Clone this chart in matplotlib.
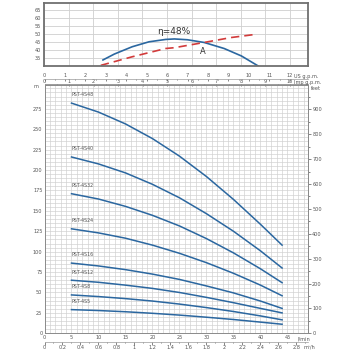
import matplotlib
matplotlib.use("Agg")
import matplotlib.pyplot as plt
from matplotlib.ticker import FixedLocator, MultipleLocator, NullFormatter

# ---- data ----
flow_lmin = [5, 10, 15, 20, 25, 30, 35, 40, 44]
models = ["PST-4S48", "PST-4S40", "PST-4S32", "PST-4S24",
          "PST-4S16", "PST-4S12", "PST-4S8", "PST-4S5"]
head_4s48 = [282, 271, 256.5, 238.5, 217, 192, 164, 133.5, 108]
head_4s40 = [216, 207.5, 196.5, 182.5, 166, 146.5, 125, 101, 80]
head_4s32 = [171, 164.5, 155.5, 144.5, 131.5, 116, 98.5, 79, 62]
head_4s24 = [128, 123, 116.5, 108, 98, 86.5, 73.5, 59, 46]
head_4s16 = [86, 82.5, 78, 72.5, 66, 58, 49.5, 39.5, 30.5]
head_4s12 = [65, 62.5, 59, 55, 50, 44, 37.5, 30.5, 25]
head_4s8 = [47, 45, 42.5, 39.5, 35.8, 31.5, 26.7, 21.3, 16.5]
head_4s5 = [29, 27.9, 26.4, 24.5, 22.3, 19.7, 16.9, 13.7, 11.1]
heads = [head_4s48, head_4s40, head_4s32, head_4s24,
         head_4s16, head_4s12, head_4s8, head_4s5]

eff_flow = [10.9, 13.0, 16.3, 19.4, 22.5, 24.1, 26.5, 29.6, 33.3, 36.5, 39.6]
eff_pct = [33.8, 37.5, 42.1, 45.2, 46.7, 47.0, 46.5, 44.8, 41.0, 36.3, 30.0]
pow_flow = [10.5, 16.3, 22.5, 24.1, 29.6, 34.6, 39.4]
pow_val = [30.4, 35.8, 41.0, 41.5, 44.8, 47.9, 50.0]

m_ticks = [0, 25, 50, 75, 100, 125, 150, 175, 200, 225, 250, 275]
ft_ticks = [0, 100, 200, 300, 400, 500, 600, 700, 800, 900]
lmin_ticks = [0, 5, 10, 15, 20, 25, 30, 35, 40, 45]
m3h_ticks = [0, 0.2, 0.4, 0.6, 0.8, 1, 1.2, 1.4, 1.6, 1.8, 2, 2.2, 2.4, 2.6, 2.8]
us_ticks = list(range(0, 13))
imp_ticks = list(range(0, 11))
eff_ticks = [35, 40, 45, 50, 55, 60, 65]

BLUE = "#2b67a0"
RED = "#d23b3b"
GRID = "#cfcfcf"
TXT = "#555555"
FS = 3.6

W = H = 350.0
fig = plt.figure(figsize=(3.5, 3.5), dpi=100)
fig.patch.set_facecolor("white")


def rect(l, t, r, b):
    return [l / W, 1 - b / H, (r - l) / W, (b - t) / H]


XMAX = 48.8

# ---- efficiency panel ----
axe = fig.add_axes(rect(44, 3, 308, 66))
axe.set_xlim(0, XMAX)
axe.set_ylim(30, 69.6)
axe.xaxis.set_major_locator(FixedLocator([k * 4.546 for k in range(11)]))
axe.xaxis.set_major_formatter(NullFormatter())
axe.yaxis.set_major_locator(FixedLocator(eff_ticks))
axe.tick_params(axis="both", length=0, labelsize=FS, colors=TXT, pad=2)
axe.grid(True, color=GRID, linewidth=0.6)
for s in axe.spines.values():
    s.set_color("#707070")
    s.set_linewidth(1.3)
axe.plot(eff_flow, eff_pct, color=BLUE, linewidth=1.2)
axe.plot(pow_flow, pow_val, color=RED, linewidth=1.2, dashes=(5, 3))
axe.text(23.9, 51.9, "η=48%", fontsize=6.5, color="#333333",
         ha="center", va="center")
axe.text(29.4, 38.8, "A", fontsize=6, color="#333333",
         ha="center", va="center")

# ---- head curves ----
ax = fig.add_axes(rect(44.5, 84.5, 308, 333.3))
ax.set_xlim(0, XMAX)
ax.set_ylim(0, 304.8)
ax.xaxis.set_major_locator(FixedLocator(lmin_ticks))
ax.xaxis.set_minor_locator(MultipleLocator(1))
ax.yaxis.set_major_locator(FixedLocator(m_ticks))
ax.yaxis.set_minor_locator(MultipleLocator(5))
ax.grid(True, which="both", color=GRID, linewidth=0.45)
ax.set_axisbelow(True)
ax.tick_params(axis="both", which="both", length=0, labelsize=FS,
               colors=TXT, pad=1.5)
for s in ax.spines.values():
    s.set_color("#8a8a8a")
    s.set_linewidth(0.7)

for name, h in zip(models, heads):
    ax.plot(flow_lmin, h, color=BLUE, linewidth=1.1)
    ax.text(flow_lmin[0], h[0] + 7, name, fontsize=3.4, color=TXT,
            ha="left", va="bottom")

# secondary scales
imp = ax.secondary_xaxis("top", functions=(lambda q: q / 4.546,
                                            lambda g: g * 4.546))
imp.xaxis.set_major_locator(FixedLocator(imp_ticks))
imp.xaxis.set_minor_locator(FixedLocator([k + 0.5 for k in range(11)]))
imp.tick_params(which="major", direction="in", length=1.6, width=0.5,
                labelsize=FS, colors=TXT, pad=0.6)
imp.tick_params(which="minor", direction="in", length=1, width=0.5,
                colors=TXT)
imp.spines["top"].set_color("#8a8a8a")
imp.spines["top"].set_linewidth(0.6)

us = ax.secondary_xaxis(1.022, functions=(lambda q: q / 3.785,
                                           lambda g: g * 3.785))
us.xaxis.set_major_locator(FixedLocator(us_ticks))
us.xaxis.set_minor_locator(FixedLocator([k + 0.5 for k in range(12)]))
us.tick_params(which="major", direction="in", length=1.6, width=0.5,
               labelsize=FS, colors=TXT, pad=0.8)
us.tick_params(which="minor", direction="in", length=1, width=0.5,
               colors=TXT)
us.spines["top"].set_color("#9a9a9a")
us.spines["top"].set_linewidth(0.5)

m3h = ax.secondary_xaxis(-0.034, functions=(lambda q: q * 0.06,
                                             lambda v: v / 0.06))
m3h.xaxis.set_major_locator(FixedLocator(m3h_ticks))
m3h.xaxis.set_minor_locator(FixedLocator([0.1 + 0.2 * k for k in range(15)]))
m3h.set_xticklabels(["%g" % v for v in m3h_ticks])
m3h.tick_params(which="major", length=1.8, width=0.5, labelsize=FS,
                colors=TXT, pad=0.5)
m3h.tick_params(which="minor", length=1, width=0.5, colors=TXT)
m3h.spines["bottom"].set_color("#9a9a9a")
m3h.spines["bottom"].set_linewidth(0.5)

feet = ax.secondary_yaxis("right", functions=(lambda m: m / 0.3048,
                                               lambda f: f * 0.3048))
feet.yaxis.set_major_locator(FixedLocator(ft_ticks))
feet.yaxis.set_minor_locator(FixedLocator([50 + 100 * k for k in range(10)]))
feet.tick_params(which="major", length=2, width=0.5, labelsize=FS,
                 colors=TXT, pad=1)
feet.tick_params(which="minor", length=1.2, width=0.5, colors=TXT)
feet.spines["right"].set_color("#8a8a8a")
feet.spines["right"].set_linewidth(0.7)


# unit labels
def ftext(x, y, s, **kw):
    fig.text(x / W, 1 - y / H, s, fontsize=FS, color=TXT,
             va="center", **kw)


ftext(294, 76.5, "US g.p.m.", ha="left")
ftext(294, 82.5, "Imp g.p.m.", ha="left")
ftext(311, 89, "feet", ha="left")
ftext(38, 87, "m", ha="right")
ftext(298, 339, "l/min", ha="left")
ftext(304, 347, "m³/h", ha="left")

fig.savefig("out.png", dpi=100, facecolor="white")
